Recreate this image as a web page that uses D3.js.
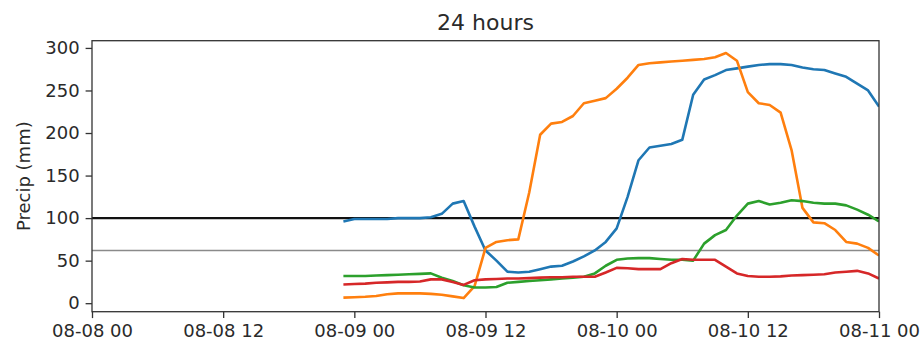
<!DOCTYPE html>
<html>
<head>
<meta charset="utf-8">
<script src="https://cdn.jsdelivr.net/npm/d3@7"></script>
<style>
  html, body { margin: 0; padding: 0; background: #fff; }
  svg { display: block; font-family: "DejaVu Sans", sans-serif; }
</style>
</head>
<body>
<svg id="chart" width="924" height="347"></svg>
<script>
// Rolling 24-hour precipitation totals (mm), hourly from 08-08 23:00 to 08-11 00:00
const firstHour = new Date(Date.UTC(2023, 7, 8, 23));
const seriesBlue = [96, 99, 99, 99, 99, 100, 100, 100, 101, 105, 117, 120, 90, 62, 50, 37, 36, 37, 40, 43,
  44, 49, 55, 62, 72, 88, 125, 168, 183, 185, 187, 192, 245, 263, 268, 274, 276, 278, 280, 281,
  281, 280, 277, 275, 274, 270, 266, 258, 250, 231];
const seriesOrange = [6.5, 7, 7.5, 8.5, 10.5, 11.5, 11.5, 11.5, 11, 10, 8, 6, 20, 65, 72, 74, 75, 130, 198, 211,
  213, 220, 235, 238, 241, 252, 265, 280, 282, 283, 284, 285, 286, 287, 289, 294, 285, 248, 235, 233,
  224, 180, 112, 95, 94, 86, 72, 70, 65, 56];
const seriesGreen = [32, 32, 32, 32.5, 33, 33.5, 34, 34.5, 35, 30, 26, 21, 18.5, 18.5, 19, 24, 25, 26, 27, 28,
  29, 30, 31, 35, 44, 51, 52.5, 53, 53, 52, 51, 51, 50, 70, 80, 86, 103, 117, 120, 116,
  118, 121, 120, 118, 117, 117, 115, 110, 104, 96];
const seriesRed = [22, 22.5, 23, 24, 24.5, 25, 25, 25.5, 28, 28, 25, 21.5, 27, 28, 28.5, 29, 29, 29.5, 30, 30.5,
  30.5, 31, 31, 31, 36, 41.5, 41, 40, 40, 40, 47, 52, 51, 51, 51, 43, 35, 32, 31, 31,
  31.5, 32.5, 33, 33.5, 34, 36, 37, 38, 35, 29];
const thresholdLines = [100, 62];
const yTickValues = [0, 50, 100, 150, 200, 250, 300];
const xTickHours = [0, 12, 24, 36, 48, 60, 72];
const titleText = "24 hours";
const yLabelText = "Precip (mm)";

const seriesColors = ["#1f77b4", "#ff7f0e", "#2ca02c", "#d62728"];
const allSeries = [seriesBlue, seriesOrange, seriesGreen, seriesRed];

const svg = d3.select("#chart");
const plot = { left: 92, right: 879, top: 40.7, bottom: 311.7 };

const axisStart = new Date(Date.UTC(2023, 7, 8, 0));
const axisEnd = new Date(Date.UTC(2023, 7, 11, 0));
const x = d3.scaleUtc().domain([axisStart, axisEnd]).range([plot.left, plot.right]);
const y = d3.scaleLinear().domain([-10, 308.5]).range([plot.bottom, plot.top]);

const times = seriesBlue.map((_, i) => d3.utcHour.offset(firstHour, i));
const xTicks = xTickHours.map(h => d3.utcHour.offset(axisStart, h));

// clip lines to the plotting area
svg.append("defs").append("clipPath").attr("id", "plotClip")
  .append("rect")
  .attr("x", plot.left).attr("y", plot.top)
  .attr("width", plot.right - plot.left).attr("height", plot.bottom - plot.top);

const body = svg.append("g").attr("clip-path", "url(#plotClip)");

// reference thresholds
body.selectAll("line.threshold")
  .data(thresholdLines)
  .join("line")
  .attr("class", "threshold")
  .attr("x1", plot.left).attr("x2", plot.right)
  .attr("y1", d => y(d)).attr("y2", d => y(d))
  .attr("stroke", (d, i) => i === 0 ? "#111" : "#8a8a8a")
  .attr("stroke-width", (d, i) => i === 0 ? 2.2 : 1.6);

const line = d3.line()
  .x((d, i) => x(times[i]))
  .y(d => y(d));

body.selectAll("path.series")
  .data(allSeries)
  .join("path")
  .attr("class", "series")
  .attr("fill", "none")
  .attr("stroke", (d, i) => seriesColors[i])
  .attr("stroke-width", 2.6)
  .attr("stroke-linejoin", "round")
  .attr("stroke-linecap", "butt")
  .attr("d", line);

// axes
const fmt = d3.utcFormat("%m-%d %H");
const xAxis = svg.append("g")
  .attr("transform", `translate(0,${plot.bottom})`)
  .call(d3.axisBottom(x).tickValues(xTicks).tickFormat(fmt).tickSize(6.4).tickSizeOuter(0).tickPadding(6));
const yAxis = svg.append("g")
  .attr("transform", `translate(${plot.left},0)`)
  .call(d3.axisLeft(y).tickValues(yTickValues).tickSize(6.4).tickSizeOuter(0).tickPadding(6));

[xAxis, yAxis].forEach(g => {
  g.select(".domain").remove();
  g.selectAll(".tick line").attr("stroke", "#333").attr("stroke-width", 1.3);
  g.selectAll(".tick text")
    .attr("fill", "#2a2a2a")
    .style("font-size", "18px")
    .style("font-family", "'DejaVu Sans', sans-serif");
});
xAxis.selectAll(".tick text").attr("dy", "0.71em");

// frame
svg.append("rect")
  .attr("x", plot.left).attr("y", plot.top)
  .attr("width", plot.right - plot.left).attr("height", plot.bottom - plot.top)
  .attr("fill", "none")
  .attr("stroke", "#333")
  .attr("stroke-width", 1.3);

// title and axis label
svg.append("text")
  .attr("x", (plot.left + plot.right) / 2)
  .attr("y", 30)
  .attr("text-anchor", "middle")
  .attr("fill", "#2a2a2a")
  .style("font-size", "22px")
  .text(titleText);

svg.append("text")
  .attr("transform", `translate(30,${(plot.top + plot.bottom) / 2}) rotate(-90)`)
  .attr("text-anchor", "middle")
  .attr("fill", "#2a2a2a")
  .style("font-size", "18px")
  .text(yLabelText);
</script>
</body>
</html>
